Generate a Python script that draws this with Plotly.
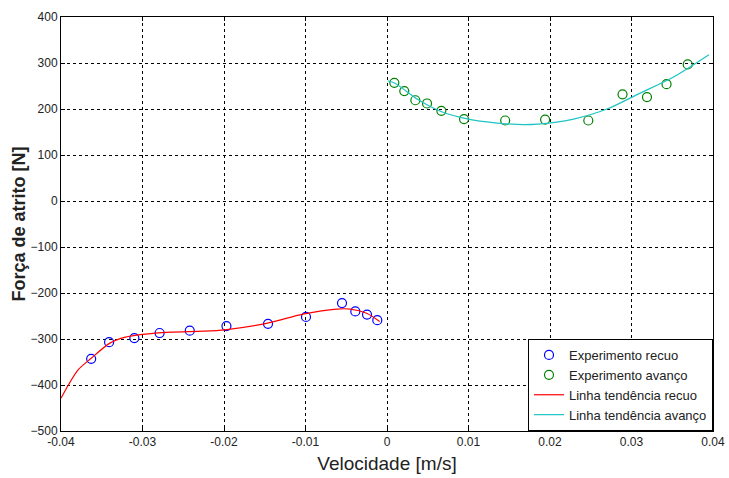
import plotly.graph_objects as go

# Measured friction force vs. velocity (retreat / advance)
vel_recuo = [-0.0363, -0.0341, -0.0310, -0.0279, -0.0242, -0.0197, -0.0146,
             -0.00994, -0.00552, -0.00389, -0.00245, -0.00119]
forca_recuo = [-343, -307, -298, -287, -282, -272, -267, -252, -222, -240, -247, -259]

vel_avanco = [0.00090, 0.00212, 0.00348, 0.00491, 0.00667, 0.00945, 0.0145,
              0.0194, 0.0247, 0.0289, 0.0319, 0.0343, 0.0369]
forca_avanco = [257, 239, 219, 212, 196, 178, 175, 177, 175, 232, 226, 254, 297]

# Trend lines
tend_recuo_x = [-0.0400, -0.0391, -0.0379, -0.0363, -0.0340, -0.0321, -0.0300,
                -0.0266, -0.0225, -0.0199, -0.0148, -0.0103, -0.0062, -0.0045,
                -0.0025, -0.0009]
tend_recuo_y = [-429, -400, -367, -342, -309, -296, -290, -285, -283, -280,
                -266, -246, -235, -235, -244, -262]

tend_avanco_x = [0.0001, 0.00098, 0.00384, 0.00671, 0.00998, 0.01325, 0.0169,
                 0.0206, 0.0229, 0.0270, 0.0310, 0.0351, 0.0395]
tend_avanco_y = [261, 256, 220, 194, 178, 170, 166, 171, 178, 200, 234, 269, 318]

x_ticks = [-0.04, -0.03, -0.02, -0.01, 0, 0.01, 0.02, 0.03, 0.04]
x_tick_text = ["-0.04", "-0.03", "-0.02", "-0.01", "0", "0.01", "0.02", "0.03", "0.04"]
y_ticks = [-500, -400, -300, -200, -100, 0, 100, 200, 300, 400]

fig = go.Figure()
fig.add_trace(go.Scatter(
    x=vel_recuo, y=forca_recuo, mode="markers", name="Experimento recuo",
    marker=dict(symbol="circle-open", size=9, color="#0000ff", line=dict(width=1.2))))
fig.add_trace(go.Scatter(
    x=vel_avanco, y=forca_avanco, mode="markers", name="Experimento avanço",
    marker=dict(symbol="circle-open", size=9, color="#008000", line=dict(width=1.2))))
fig.add_trace(go.Scatter(
    x=tend_recuo_x, y=tend_recuo_y, mode="lines", name="Linha tendência recuo",
    line=dict(color="#ff0000", width=1.2, shape="spline", smoothing=0.8)))
fig.add_trace(go.Scatter(
    x=tend_avanco_x, y=tend_avanco_y, mode="lines", name="Linha tendência avanço",
    line=dict(color="#1fc4c4", width=1.2, shape="spline", smoothing=0.8)))

axis_common = dict(
    showline=True, linecolor="black", linewidth=1, mirror="ticks",
    ticks="inside", ticklen=4, tickcolor="black",
    showgrid=True, gridcolor="black", gridwidth=1, griddash="3px,3px",
    zeroline=False, automargin=False,
    tickfont=dict(family="Liberation Sans, Arial", size=12, color="#222"),
)

fig.update_xaxes(
    range=[-0.04, 0.04], tickvals=x_ticks, ticktext=x_tick_text,
    title=dict(text="Velocidade [m/s]", font=dict(family="Liberation Sans, Arial", size=19, color="#222"),
               standoff=8),
    **axis_common)
fig.update_yaxes(
    range=[-500, 400], tickvals=y_ticks,
    title=dict(text="<b>Força de atrito [N]</b>", font=dict(family="Liberation Sans, Arial", size=18, color="#222"),
               standoff=0),
    **axis_common)

fig.update_layout(
    width=729, height=478,
    margin=dict(l=61, r=16, t=17, b=47),
    paper_bgcolor="white", plot_bgcolor="white",
    showlegend=True,
    legend=dict(
        x=1, y=0, xanchor="right", yanchor="bottom",
        bgcolor="white", bordercolor="black", borderwidth=1,
        font=dict(family="Liberation Sans, Arial", size=13, color="#222"),
        itemwidth=30,
    ),
)

fig.write_html("out.html")
